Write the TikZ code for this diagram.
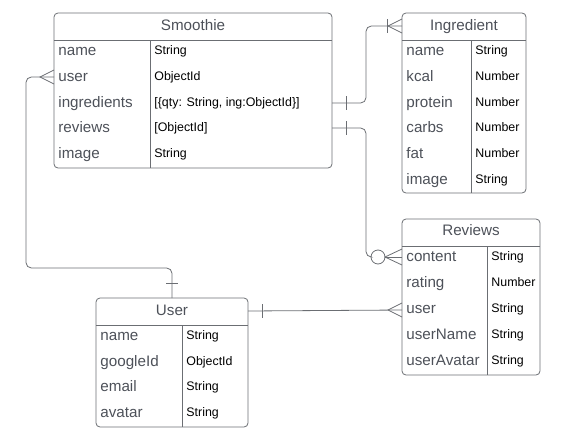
\documentclass[tikz,border=0pt]{standalone}
\usepackage{fontspec}
\setmainfont{Liberation Sans}
\usetikzlibrary{positioning,calc}

\definecolor{linegray}{HTML}{6B6E73}
\definecolor{textgray}{HTML}{4D5159}

\begin{document}
\begin{tikzpicture}[x=0.75pt,y=-0.75pt,line width=0.6pt,
    box/.style={draw=linegray,rounded corners=3pt},
    rule/.style={draw=linegray},
    head/.style={font=\fontsize{11.4}{13}\selectfont,text=textgray,inner sep=0pt,text height=8.2pt,text depth=2.2pt},
    field/.style={anchor=west,font=\fontsize{11.4}{13}\selectfont,text=textgray,inner sep=0pt,text height=8.2pt,text depth=2.2pt},
    type/.style={anchor=west,font=\fontsize{9.3}{11}\selectfont,inner sep=0pt,text height=6.8pt,text depth=1.8pt},
    link/.style={draw=linegray,rounded corners=4pt}]
        \useasboundingbox (0,0) rectangle (564,443);

        % Smoothie table
        \draw[box] (54,13) rectangle (332,168);
        \draw[rule] (54,40) -- (332,40);
        \draw[rule] (150,40) -- (150,168);
        \node[head] (smoothie) at (193,26) {Smoothie};
        \foreach \y/\f/\t in {
            51/name/String,
            77/user/ObjectId,
            103/ingredients/{[\{qty: String, ing:ObjectId\}]},
            128/reviews/{[ObjectId]},
            154/image/String}
                \node[field] at (58,\y) {\f} node[type] at (154,\y) {\t};

        % Ingredient table
        \draw[box] (402,13) rectangle (526,193);
        \draw[rule] (402,40) -- (526,40);
        \draw[rule] (471,40) -- (471,193);
        \node[head] (ingredient) at (464,26) {Ingredient};
        \foreach \y/\f/\t in {
            51/name/String,
            77/kcal/Number,
            103/protein/Number,
            128/carbs/Number,
            154/fat/Number,
            180/image/String}
                \node[field] at (406,\y) {\f} node[type] at (475,\y) {\t};

        % Reviews table
        \draw[box] (402,219) rectangle (540,375);
        \draw[rule] (402,246) -- (540,246);
        \draw[rule] (487,246) -- (487,375);
        \node[head] (reviews) at (471,231) {Reviews};
        \foreach \y/\f/\t in {
            257/content/String,
            283/rating/Number,
            309/user/String,
            335/userName/String,
            361/userAvatar/String}
                \node[field] at (406,\y) {\f} node[type] at (491,\y) {\t};

        % User table
        \draw[box] (96,298) rectangle (248,427);
        \draw[rule] (96,325) -- (248,325);
        \draw[rule] (182,325) -- (182,427);
        \node[head] (user) at (172,311) {User};
        \foreach \y/\f/\t in {
            336/name/String,
            362/googleId/ObjectId,
            387/email/String,
            413/avatar/String}
                \node[field] at (100,\y) {\f} node[type] at (186,\y) {\t};

        % connection points on the table edges
        \coordinate (s-user) at (54,77);
        \coordinate (s-ing) at (332,103);
        \coordinate (s-rev) at (332,128);
        \coordinate (i-head) at (402,26);
        \coordinate (r-content) at (402,257);
        \coordinate (r-user) at (402,310);
        \coordinate (u-top) at (172,298);
        \coordinate (u-right) at (248,311);

        % Smoothie.user >-- User
        \draw[linegray] ($(s-user)+(0,-7)$) -- ($(s-user)+(-14,0)$) -- ($(s-user)+(0,7)$);
        \draw[link] (s-user) -- (26,77) -- (26,268) -- (172,268) -- (u-top);
        \draw[linegray] ($(u-top)+(-6,-15)$) -- ($(u-top)+(6,-15)$);

        % Smoothie.ingredients --|< Ingredient
        \draw[link] (s-ing) -- (366,103) -- (366,26) -- (i-head);
        \draw[linegray] ($(s-ing)+(14,-7)$) -- ($(s-ing)+(14,7)$);
        \draw[linegray] ($(i-head)+(0,-7)$) -- ($(i-head)+(-14,0)$) -- ($(i-head)+(0,7)$);
        \draw[linegray] ($(i-head)+(-15,-7)$) -- ($(i-head)+(-15,7)$);

        % Smoothie.reviews --o< Reviews
        \draw[link] (s-rev) -- (366,128) -- (366,257) -- (371,257);
        \draw[linegray] ($(s-rev)+(14,-7)$) -- ($(s-rev)+(14,7)$);
        \draw[linegray] (378,257) circle (7);
        \draw[linegray] ($(r-content)+(0,-8)$) -- ($(r-content)+(-17,0)$) -- ($(r-content)+(0,8)$);
        \draw[linegray] (385,257) -- (r-content);

        % User --< Reviews.user
        \draw[linegray] (u-right) -- (r-user);
        \draw[linegray] ($(u-right)+(14,-7)$) -- ($(u-right)+(14,7)$);
        \draw[linegray] ($(r-user)+(0,-7)$) -- ($(r-user)+(-14,0)$) -- ($(r-user)+(0,7)$);

    \end{tikzpicture}
\end{document}
